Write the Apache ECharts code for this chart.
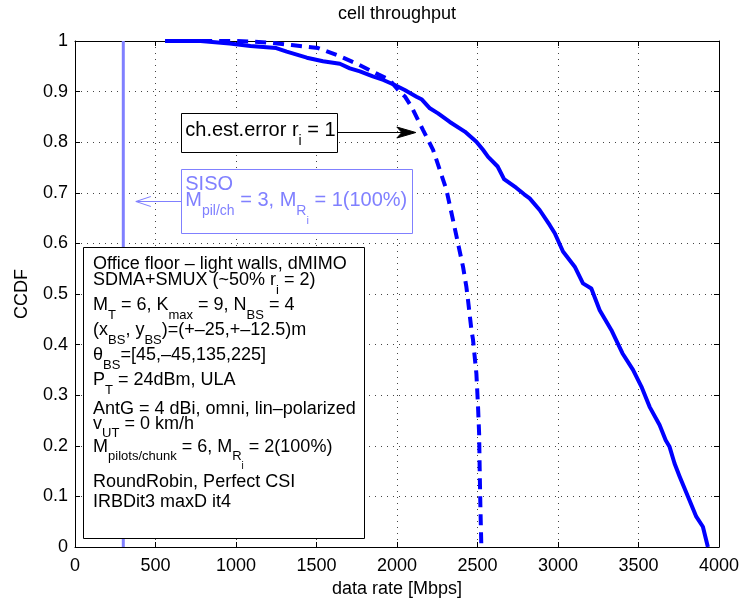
<!DOCTYPE html>
<html>
<head>
<meta charset="utf-8">
<script src="https://cdn.jsdelivr.net/npm/echarts@6/dist/echarts.min.js"></script>
<style>
  html, body { margin: 0; padding: 0; background: #ffffff; }
  #chart { width: 744px; height: 603px; }
</style>
</head>
<body>
<div id="chart"></div>
<script>
// CCDF of cell throughput, perfect CSI (solid)
const csiRate = [560, 780, 960, 1090, 1250, 1315, 1440, 1540, 1645, 1707,
  1770, 1850, 1915, 1986, 2048, 2121, 2152, 2204, 2255, 2328,
  2421, 2493, 2534, 2566, 2625, 2665, 2740, 2790, 2824, 2886,
  2949, 2980, 3031, 3104, 3155, 3207, 3259, 3331, 3400, 3466,
  3518, 3569, 3631, 3669, 3693, 3724, 3756, 3807, 3859, 3900, 3931];
const csiCcdf = [1.0, 1.0, 0.995, 0.99, 0.986, 0.979, 0.967, 0.96, 0.955, 0.946,
  0.94, 0.93, 0.923, 0.913, 0.903, 0.89, 0.885, 0.867, 0.857, 0.84,
  0.821, 0.801, 0.785, 0.771, 0.752, 0.727, 0.71, 0.697, 0.689, 0.666,
  0.636, 0.62, 0.584, 0.554, 0.521, 0.511, 0.468, 0.429, 0.383, 0.35,
  0.317, 0.277, 0.241, 0.211, 0.198, 0.165, 0.139, 0.1, 0.06, 0.04, 0.0];

// CCDF with channel estimation error r_i = 1 (dashed)
const errRate = [560, 1000, 1086, 1200, 1345, 1510, 1628, 1752, 1883, 1955,
  2007, 2050, 2090, 2162, 2224, 2266, 2307, 2348, 2379, 2410,
  2431, 2441, 2462, 2472, 2493, 2503, 2510, 2514, 2518, 2524];
const errCcdf = [1.0, 1.0, 0.999, 0.997, 0.992, 0.986, 0.972, 0.955, 0.934, 0.923,
  0.903, 0.89, 0.87, 0.824, 0.785, 0.745, 0.706, 0.646, 0.6, 0.554,
  0.514, 0.488, 0.43, 0.41, 0.343, 0.28, 0.225, 0.145, 0.08, 0.0];

// SISO reference (step)
const sisoRate = [300, 300];
const sisoCcdf = [0, 1];

// Axis ranges
const xMin = 0, xMax = 4000, xStep = 500;
const yMin = 0, yMax = 1, yStep = 0.1;

const titleText = 'cell throughput';
const xName = 'data rate [Mbps]';
const yName = 'CCDF';

// Annotation text, as [text, style] runs: n = normal, s = subscript, ss = sub-subscript
const errNote = [['ch.est.error r', 'n'], ['i', 's'], [' = 1', 'n']];
const sisoNote = [
  [['SISO', 'n']],
  [['M', 'n'], ['pil/ch', 's'], [' = 3, M', 'n'], ['R', 's'], ['i', 'ss'], [' = 1(100%)', 'n']]
];
const infoNote = [
  [['Office floor – light walls, dMIMO', 'n']],
  [['SDMA+SMUX (~50% r', 'n'], ['i', 's'], [' = 2)', 'n']],
  [['M', 'n'], ['T', 's'], [' = 6, K', 'n'], ['max', 's'], [' = 9, N', 'n'], ['BS', 's'], [' = 4', 'n']],
  [['(x', 'n'], ['BS', 's'], [', y', 'n'], ['BS', 's'], [')=(+–25,+–12.5)m', 'n']],
  [['θ', 'n'], ['BS', 's'], ['=[45,–45,135,225]', 'n']],
  [['P', 'n'], ['T', 's'], [' = 24dBm, ULA', 'n']],
  [['AntG = 4 dBi, omni, lin–polarized', 'n']],
  [['v', 'n'], ['UT', 's'], [' = 0 km/h', 'n']],
  [['M', 'n'], ['pilots/chunk', 's'], [' = 6, M', 'n'], ['R', 's'], ['i', 'ss'], [' = 2(100%)', 'n']],
  [['RoundRobin, Perfect CSI', 'n']],
  [['IRBDit3 maxD it4', 'n']]
];

const FONT = '"Liberation Sans", Arial, Helvetica, sans-serif';
const BLUE = '#0000ff';
const LIGHT = '#8080ff';

const zip = (xs, ys) => xs.map((x, i) => [x, ys[i]]);

const gridLine = { show: true, lineStyle: { color: '#444', width: 1, type: [1, 5] } };
const plain = v => String(v);

const chart = echarts.init(document.getElementById('chart'), null, { renderer: 'canvas' });

chart.setOption({
  animation: false,
  backgroundColor: '#ffffff',
  textStyle: { fontFamily: FONT },
  grid: { left: 75, right: 25, top: 41, bottom: 56, containLabel: false },
  xAxis: [
    {
      type: 'value', min: xMin, max: xMax, interval: xStep, position: 'bottom',
      name: xName, nameLocation: 'middle', nameGap: 32,
      nameTextStyle: { fontSize: 18, color: '#000', fontFamily: FONT },
      axisLine: { show: true, onZero: false, lineStyle: { color: '#000', width: 1 } },
      axisTick: { show: true, inside: true, length: 5, lineStyle: { color: '#000' } },
      axisLabel: { fontSize: 18, color: '#000', margin: 10, fontFamily: FONT, formatter: plain },
      splitLine: gridLine
    },
    {
      type: 'value', min: xMin, max: xMax, interval: xStep, position: 'top',
      axisLine: { show: true, onZero: false, lineStyle: { color: '#000', width: 1 } },
      axisTick: { show: true, inside: true, length: 5, lineStyle: { color: '#000' } },
      axisLabel: { show: false },
      splitLine: { show: false }
    }
  ],
  yAxis: [
    {
      type: 'value', min: yMin, max: yMax, interval: yStep, position: 'left',
      name: yName, nameLocation: 'middle', nameGap: 44, nameRotate: 90,
      nameTextStyle: { fontSize: 18, color: '#000', fontFamily: FONT },
      axisLine: { show: true, onZero: false, lineStyle: { color: '#000', width: 1 } },
      axisTick: { show: true, inside: true, length: 5, lineStyle: { color: '#000' } },
      axisLabel: { fontSize: 18, color: '#000', margin: 7, fontFamily: FONT, formatter: plain },
      splitLine: gridLine
    },
    {
      type: 'value', min: yMin, max: yMax, interval: yStep, position: 'right',
      axisLine: { show: true, onZero: false, lineStyle: { color: '#000', width: 1 } },
      axisTick: { show: true, inside: true, length: 5, lineStyle: { color: '#000' } },
      axisLabel: { show: false },
      splitLine: { show: false }
    }
  ],
  series: [
    {
      name: 'SISO', type: 'line', data: zip(sisoRate, sisoCcdf),
      symbol: 'none', silent: true, z: 2,
      lineStyle: { color: LIGHT, width: 3 }
    },
    {
      name: 'Perfect CSI', type: 'line', data: zip(csiRate, csiCcdf),
      symbol: 'none', silent: true, z: 3,
      lineStyle: { color: BLUE, width: 4, join: 'round' }
    },
    {
      name: 'ch.est.error', type: 'line', data: zip(errRate, errCcdf),
      symbol: 'none', silent: true, z: 4,
      lineStyle: { color: BLUE, width: 4, type: [11, 7] }
    }
  ]
});

// Annotations, anchored in data coordinates and converted to pixels
const toPx = (r, c) => chart.convertToPixel({ gridIndex: 0 }, [r, c]);

// Rich text styles for a given base font size; subscripts drop below the baseline
function richStyles(color, size) {
  const s = Math.round(size * 0.72), ss = Math.round(size * 0.56);
  return {
    n: { fontSize: size, lineHeight: size, verticalAlign: 'top', fill: color, fontFamily: FONT },
    s: { fontSize: s, lineHeight: s, verticalAlign: 'top', padding: [Math.round(size * 0.68), 0, 0, 0], fill: color, fontFamily: FONT },
    ss: { fontSize: ss, lineHeight: ss, verticalAlign: 'top', padding: [Math.round(size * 1.25), 0, 0, 0], fill: color, fontFamily: FONT }
  };
}

function textLine(x, baseline, runs, color, size) {
  return {
    type: 'text', x: x, y: baseline - size * 0.84, z: 102, silent: true,
    style: {
      text: runs.map(r => '{' + r[1] + '|' + r[0] + '}').join(''),
      rich: richStyles(color, size), fill: color,
      font: size + 'px ' + FONT, align: 'left', verticalAlign: 'top'
    }
  };
}

function box(p0, p1, stroke) {
  const x0 = Math.round(p0[0]) + 0.5, y0 = Math.round(p0[1]) + 0.5;
  const x1 = Math.round(p1[0]) + 0.5, y1 = Math.round(p1[1]) + 0.5;
  return {
    type: 'rect', z: 100, silent: true,
    shape: { x: x0, y: y0, width: x1 - x0, height: y1 - y0 },
    style: { fill: '#ffffff', stroke: stroke, lineWidth: 1 }
  };
}

function drawNotes() {
  const g = [];
  const plotL = toPx(xMin, yMax), plotR = toPx(xMax, yMin);
  const midX = (plotL[0] + plotR[0]) / 2;

  // title
  g.push({
    type: 'text', x: midX, y: 14, z: 102, silent: true,
    style: { text: titleText, fill: '#000', font: '18px ' + FONT, align: 'center', verticalAlign: 'middle' }
  });

  // ch.est.error note with filled arrow
  const eA = toPx(660, 0.858), eB = toPx(1625, 0.780);
  g.push(box(eA, eB, '#000'));
  g.push(textLine(eA[0] + 4, eA[1] + 24, errNote, '#000', 20));
  const eTail = toPx(1625, 0.82), eTip = toPx(2117, 0.82);
  const ey = Math.round(eTail[1]) + 0.5;
  g.push({
    type: 'line', z: 101, silent: true,
    shape: { x1: Math.round(eTail[0]), y1: ey, x2: eTip[0] - 12, y2: ey },
    style: { stroke: '#000', lineWidth: 1 }
  });
  g.push({
    type: 'polygon', z: 101, silent: true,
    shape: { points: [[eTip[0], ey], [eTip[0] - 19, ey - 5.5], [eTip[0] - 14, ey], [eTip[0] - 19, ey + 5.5]] },
    style: { fill: '#000', stroke: '#000', lineWidth: 1 }
  });

  // SISO note with open arrow
  const sA = toPx(660, 0.747), sB = toPx(2093, 0.621);
  g.push(box(sA, sB, LIGHT));
  g.push(textLine(sA[0] + 4, sA[1] + 22.5, sisoNote[0], LIGHT, 20));
  g.push(textLine(sA[0] + 4, sA[1] + 38, sisoNote[1], LIGHT, 20));
  const sTip = toPx(378, 0.683);
  const sy = Math.round(sTip[1]) + 0.5;
  g.push({
    type: 'line', z: 101, silent: true,
    shape: { x1: Math.round(sA[0]), y1: sy, x2: sTip[0], y2: sy },
    style: { stroke: LIGHT, lineWidth: 1 }
  });
  g.push({
    type: 'polyline', z: 101, silent: true,
    shape: { points: [[sTip[0] + 15, sy - 5], [sTip[0], sy], [sTip[0] + 15, sy + 5]] },
    style: { stroke: LIGHT, lineWidth: 1, fill: null }
  });

  // scenario parameter box
  const iA = toPx(50, 0.593), iB = toPx(1795, 0.017);
  g.push(box(iA, iB, '#000'));
  const offsets = [23, 39.7, 64.7, 89.7, 114.7, 139.7, 168, 183, 206.3, 241.3, 261.3];
  infoNote.forEach((runs, i) => {
    g.push(textLine(iA[0] + 10, iA[1] + offsets[i], runs, '#000', 18));
  });

  chart.setOption({ graphic: { elements: g } });
}

drawNotes();
</script>
</body>
</html>
